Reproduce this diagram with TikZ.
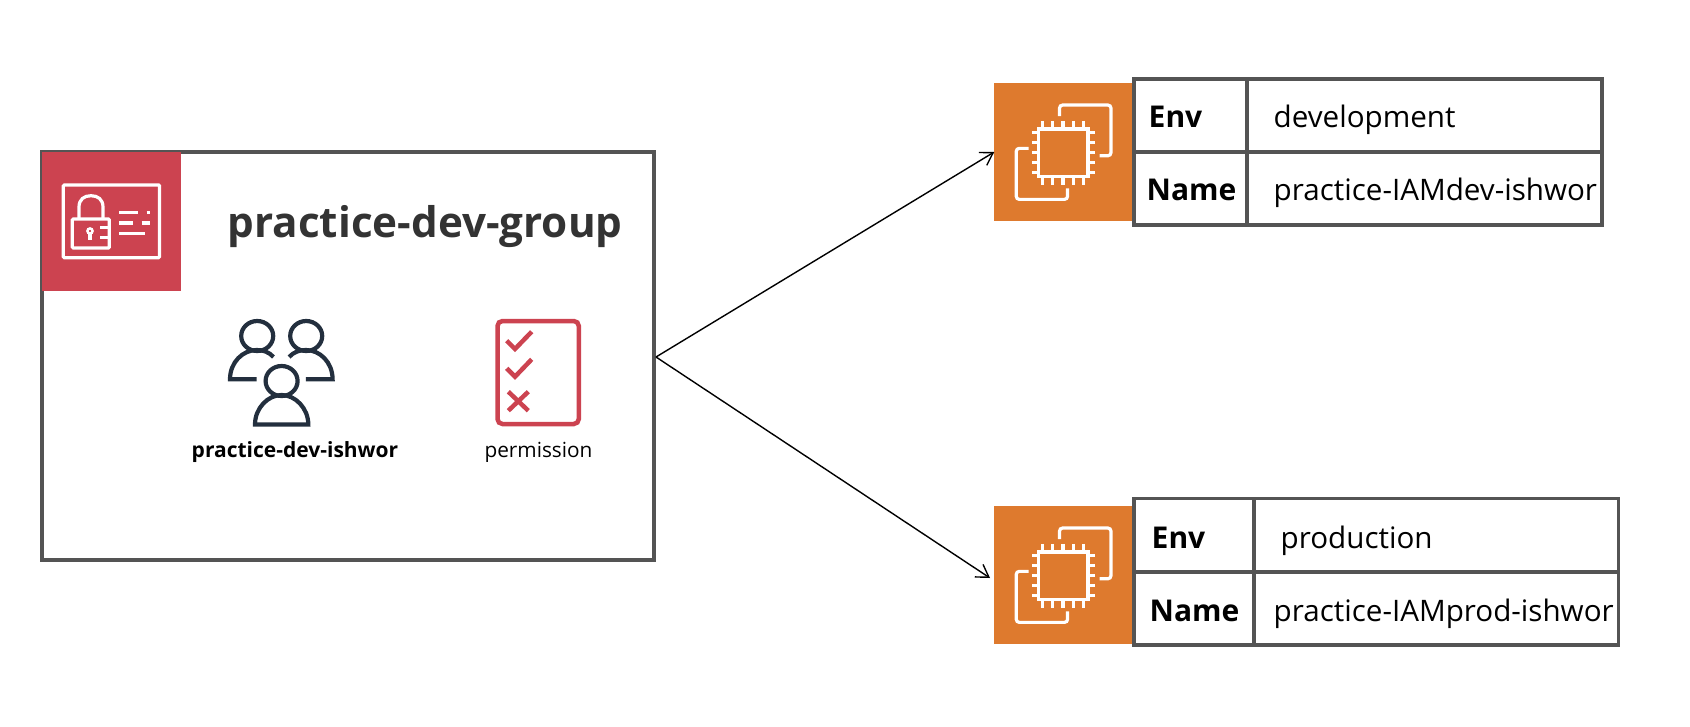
\documentclass[tikz,border=0pt]{standalone}
\usepackage{fontspec}
\setmainfont{Open Sans}
\usetikzlibrary{arrows.meta}
\definecolor{groupRed}{HTML}{CC4350}
\definecolor{ec2Orange}{HTML}{DE7A2E}
\definecolor{frameGray}{HTML}{545454}
\definecolor{userNavy}{HTML}{232F3E}
\definecolor{titleGray}{HTML}{333333}
\tikzset{
	ec2icon/.pic = {
		\draw[iconLine] (44.3, 46.3) rectangle (93.7, 94);
		\foreach \px in {48.3, 58.5, 68.7, 78.9, 89.1} {
			\draw[iconLine] (\px, 38) -- (\px, 46.3);
			\draw[iconLine] (\px, 94) -- (\px, 102.3);
		}
		\foreach \py in {50, 60, 70, 80, 90} {
			\draw[iconLine] (38, \py) -- (44.3, \py);
			\draw[iconLine] (93.7, \py) -- (101, \py);
		}
		\draw[iconLine, rounded corners = 3pt] (65.3, 33.3) -- (65.3, 22.3) -- (116.7, 22.3) -- (116.7, 73) -- (105.3, 73);
		\draw[iconLine, rounded corners = 3pt] (34.3, 65.6) -- (22, 65.6) -- (22, 116.6) -- (73.3, 116.6) -- (73.3, 105.6);
	}
}
\begin{document}
\begin{tikzpicture}[x = 1pt, y = -1pt]
	\tikzstyle{iconLine} = [draw = white, line width = 3.2pt]
	\tikzstyle{groupStyle} = [shape = rectangle, draw = frameGray, line width = 3.8pt, outer sep = 0pt, minimum width = 612pt, minimum height = 408pt]
	\tikzstyle{squareStyle} = [shape = rectangle, outer sep = 0pt, inner sep = 0pt, minimum width = 139.5pt, minimum height = 138.5pt]
	\tikzstyle{cellStyle} = [shape = rectangle, draw = frameGray, line width = 3.8pt, outer sep = 0pt, inner sep = 0pt, minimum height = 73pt]
	\tikzstyle{keyStyle} = [anchor = base west, inner sep = 0pt, font = \fontsize{30}{36}\selectfont\bfseries]
	\tikzstyle{valueStyle} = [anchor = base west, inner sep = 0pt, font = \fontsize{29.6}{36}\selectfont]
	\tikzstyle{linkStyle} = [-{Straight Barb[length = 12pt, width = 15pt]}, line width = 1.4pt]
	\tikzstyle{userLine} = [draw = userNavy, line width = 4.2pt]
	\tikzstyle{checkLine} = [draw = groupRed, line width = 4.5pt]
	\useasboundingbox (0, 0) rectangle (1690, 726);
	% group box
	\node[groupStyle] (group) at (348, 356) {};
	\node[squareStyle, fill = groupRed] (groupIcon) at (111.5, 221.5) {};
	\draw[iconLine, rounded corners = 1pt] (63.3, 185) rectangle (159.5, 257.7);
	\draw[iconLine, rounded corners = 1pt] (72.3, 219) rectangle (109.3, 248);
	\draw[iconLine] (79, 219) -- (79, 207) .. controls (79, 199.5) and (84, 195.7) .. (91, 195.7) .. controls (98, 195.7) and (103, 199.5) .. (103, 207) -- (103, 219);
	\draw[iconLine, line width = 2.4pt] (90, 231) circle (2.6pt);
	\draw[iconLine] (90, 233) -- (90, 240);
	\draw[iconLine] (100, 227.3) -- (109, 227.3);
	\draw[iconLine] (100, 237.3) -- (109, 237.3);
	\draw[iconLine] (119, 212.3) -- (137.7, 212.3);
	\draw[iconLine] (146.5, 212.3) -- (150, 212.3);
	\draw[iconLine] (119, 223) -- (132.5, 223);
	\draw[iconLine] (141.5, 223) -- (150, 223);
	\draw[iconLine] (119, 233.7) -- (145, 233.7);
	\node[anchor = base west, inner sep = 0pt, text = titleGray, font = \fontsize{42.2}{52}\selectfont\bfseries] (groupTitle) at (227.5, 237) {practice-dev-group};
	% users
	\draw[userLine] (257.2, 336) ellipse (16pt and 15pt);
	\draw[userLine] (306.2, 336) ellipse (16pt and 15pt);
	\draw[userLine] (281.6, 381) ellipse (16pt and 15pt);
	\draw[userLine] (256.7, 379.3) -- (230, 379.3) .. controls (230, 362) and (243, 350) .. (256.7, 350) .. controls (263, 350) and (269, 352) .. (273.5, 357);
	\draw[userLine] (305.9, 379.3) -- (332.6, 379.3) .. controls (332.6, 362) and (319.6, 350) .. (305.9, 350) .. controls (299.6, 350) and (293.6, 352) .. (289.1, 357);
	\draw[userLine] (255, 424.5) .. controls (255, 408) and (268, 395) .. (281.6, 395) .. controls (295, 395) and (308.3, 408) .. (308.3, 424.5) -- cycle;
	\node[anchor = base, inner sep = 0pt, font = \fontsize{21}{25}\selectfont\bfseries] (userLabel) at (295, 457) {practice-dev-ishwor};
	% permission list
	\draw[checkLine, rounded corners = 5pt] (497.5, 321) rectangle (578.8, 424);
	\draw[checkLine] (506.7, 340.7) -- (515, 349) -- (531.7, 331.7);
	\draw[checkLine] (506.7, 368.3) -- (515, 376.7) -- (531.7, 359.3);
	\draw[checkLine] (508.3, 391.7) -- (528.3, 410.7);
	\draw[checkLine] (528.3, 391.7) -- (508.3, 410.7);
	\node[anchor = base, inner sep = 0pt, font = \fontsize{20.8}{25}\selectfont] (permLabel) at (538.5, 457) {permission};
	% development instance
	\node[squareStyle, fill = ec2Orange] (ec2dev) at (1064, 152) {};
	\pic at (ec2dev.north west) {ec2icon};
	\node[cellStyle, minimum width = 113pt] (devEnvKey) at (1190.5, 115.5) {};
	\node[cellStyle, minimum width = 355pt] (devEnvVal) at (1424.5, 115.5) {};
	\node[cellStyle, minimum width = 113pt] (devNameKey) at (1190.5, 188.5) {};
	\node[cellStyle, minimum width = 355pt] (devNameVal) at (1424.5, 188.5) {};
	\node[keyStyle] (devEnvText) at (1148.5, 127.7) {Env};
	\node[keyStyle] (devNameText) at (1146.5, 200.3) {Name};
	\node[valueStyle] (devEnvValue) at (1273.5, 127.7) {development};
	\node[valueStyle] (devNameValue) at (1273.5, 200.3) {practice-IAMdev-ishwor};
	% production instance
	\node[squareStyle, fill = ec2Orange] (ec2prod) at (1064, 575) {};
	\pic at (ec2prod.north west) {ec2icon};
	\node[cellStyle, minimum width = 120.5pt] (prodEnvKey) at (1194, 535) {};
	\node[cellStyle, minimum width = 364pt] (prodEnvVal) at (1436.5, 535) {};
	\node[cellStyle, minimum width = 120.5pt] (prodNameKey) at (1194, 608.3) {};
	\node[cellStyle, minimum width = 364pt] (prodNameVal) at (1436.5, 608.3) {};
	\node[keyStyle] (prodEnvText) at (1151.5, 548.7) {Env};
	\node[keyStyle] (prodNameText) at (1149.5, 621) {Name};
	\node[valueStyle] (prodEnvValue) at (1280.5, 548.7) {production};
	\node[valueStyle] (prodNameValue) at (1273.5, 621) {practice-IAMprod-ishwor};
	% links
	\coordinate (prodTip) at (990, 578);
	\draw[linkStyle] ([xshift = 2pt, yshift = -1pt]group.east) -- (ec2dev.west);
	\draw[linkStyle] ([xshift = 2pt, yshift = -1pt]group.east) -- (prodTip);
\end{tikzpicture}
\end{document}
